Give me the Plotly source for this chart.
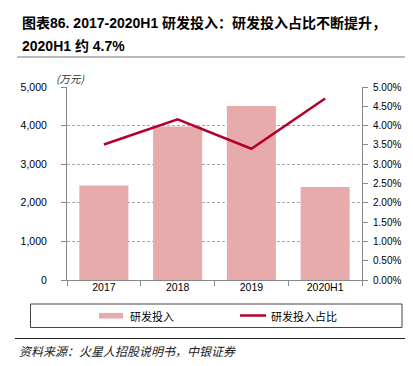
import plotly.graph_objects as go

categories = ["2017", "2018", "2019", "2020H1"]
rd_spend = [2450, 3975, 4505, 2410]          # 万元
rd_ratio = [3.51, 4.16, 3.40, 4.70]           # %
left_ticks = [0, 1000, 2000, 3000, 4000, 5000]
right_ticks = [0, 0.5, 1, 1.5, 2, 2.5, 3, 3.5, 4, 4.5, 5]

BAR_COLOR = "#E8ABAB"
LINE_COLOR = "#B3002C"
FONT = "Liberation Sans, Arial, Noto Sans CJK SC, sans-serif"
CJK = "Noto Sans CJK SC, sans-serif"

fig = go.Figure()
fig.add_trace(go.Bar(x=categories, y=rd_spend, marker=dict(color=BAR_COLOR, line=dict(width=0)),
                     name="研发投入", showlegend=False))
fig.add_trace(go.Scatter(x=categories, y=rd_ratio, yaxis="y2", mode="lines",
                         line=dict(color=LINE_COLOR, width=2.5), name="研发投入占比", showlegend=False))

W, H = 413, 366
L, R, T, B = 59, 59, 79, 94
fig.update_layout(
    width=W, height=H,
    margin=dict(l=L, r=R, t=T, b=B),
    paper_bgcolor="white", plot_bgcolor="white",
    bargap=0.335,
    font=dict(family=FONT, size=10.5, color="#000"),
    xaxis=dict(type="category", showline=True, linecolor="#888", linewidth=1,
               ticks="outside", tickson="boundaries", ticklen=5, tickcolor="#888",
               showgrid=False, tickfont=dict(size=10.5), ticklabelstandoff=-3),
    yaxis=dict(range=[0, 5000], tickvals=left_ticks, tickformat=",d",
               showline=True, linecolor="#888", linewidth=1,
               ticks="outside", ticklen=5, tickcolor="#888",
               showgrid=True, gridcolor="#A8A8A8", griddash="3px,2px", gridwidth=1,
               zeroline=False, ticklabelstandoff=12),
    yaxis2=dict(range=[0, 5], overlaying="y", side="right", tickvals=right_ticks,
                ticktext=[f"{v:.2f}%" for v in right_ticks], tickfont=dict(size=10),
                showline=True, linecolor="#888", linewidth=1,
                ticks="outside", ticklen=5, tickcolor="#888",
                showgrid=False, zeroline=False, ticklabelstandoff=3),
)

PW = W - L - R
PH = H - T - B

def px(x):
    return (x - L) / PW

def py(y):
    return (H - B - y) / PH

annotations = [
    dict(text="<b>图表86. 2017-2020H1 研发投入：研发投入占比不断提升，</b>", x=px(12), y=py(15),
         font=dict(size=14, family=FONT)),
    dict(text="<b>2020H1 约 4.7%</b>", x=px(12), y=py(38), font=dict(size=14, family=FONT)),
    dict(text="<i>(万元)</i>", x=px(46), y=py(70), font=dict(size=10.5, family=CJK, color="#333")),
    dict(text="研发投入", x=px(120), y=py(307.5), font=dict(size=11, family=CJK)),
    dict(text="研发投入占比", x=px(261), y=py(307.5), font=dict(size=11, family=CJK)),
    dict(text="<i>资料来源：火星人招股说明书，中银证券</i>", x=px(9), y=py(342),
         font=dict(size=12, family=CJK, color="#222")),
]
for a in annotations:
    a.update(xref="paper", yref="paper", xanchor="left", yanchor="middle", showarrow=False)
fig.update_layout(annotations=annotations)

shapes = [
    dict(type="line", x0=px(9), x1=px(405), y0=py(49), y1=py(49), line=dict(color="#777", width=1)),
    dict(type="rect", x0=px(22.5), x1=px(394), y0=py(296), y1=py(319.5), line=dict(color="#444", width=1)),
    dict(type="rect", x0=px(91), x1=px(115), y0=py(305), y1=py(310.5), fillcolor=BAR_COLOR, line=dict(width=0)),
    dict(type="line", x0=px(232), x1=px(258), y0=py(307.5), y1=py(307.5), line=dict(color=LINE_COLOR, width=2.5)),
    dict(type="line", x0=px(7), x1=px(405), y0=py(330.5), y1=py(330.5), line=dict(color="#222", width=1)),
]
for s in shapes:
    s.update(xref="paper", yref="paper", layer="above")
fig.update_layout(shapes=shapes)

fig.write_html("out.html")
